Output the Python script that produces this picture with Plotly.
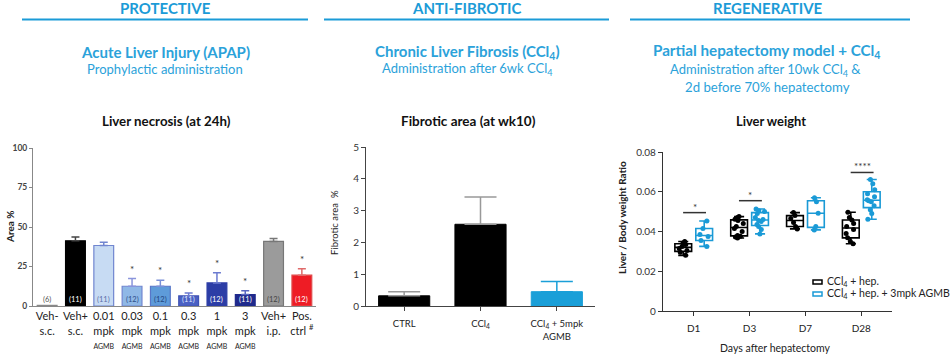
import plotly.graph_objects as go

W, H = 950, 354


def px(x):
    return x / W


def py(y):
    return 1 - y / H


FONT = "Lato"
BLUE = "#1b9bd7"

# ---------------- Panel 1: Liver necrosis ----------------
nec_labels = [
    "Veh-<br>s.c.",
    "Veh+<br>s.c.",
    "0.01<br>mpk<br><span style='font-size:7px'>AGMB</span>",
    "0.03<br>mpk<br><span style='font-size:7px'>AGMB</span>",
    "0.1<br>mpk<br><span style='font-size:7px'>AGMB</span>",
    "0.3<br>mpk<br><span style='font-size:7px'>AGMB</span>",
    "1<br>mpk<br><span style='font-size:7px'>AGMB</span>",
    "3<br>mpk<br><span style='font-size:7px'>AGMB</span>",
    "Veh+<br>i.p.",
    "Pos.<br>ctrl <sup>#</sup>",
]
nec_values = [0.4, 41.3, 38.3, 12.5, 12.5, 6.4, 14.6, 7.2, 40.9, 19.5]
nec_err = [0.0, 2.3, 2.0, 4.9, 3.8, 1.9, 6.4, 2.5, 1.9, 4.0]
nec_n = ["(6)", "(11)", "(11)", "(12)", "(12)", "(11)", "(12)", "(11)", "(12)", "(12)"]
nec_sig = ["", "", "", "*", "*", "*", "*", "*", "", "*"]
nec_fill = ["#ffffff", "#000000", "#c7dbf3", "#8fb8e6", "#5e9bd9", "#4a60c3",
            "#2c3da6", "#1f2a8c", "#9b9b9b", "#ee1c25"]
nec_line = ["#888888", "#000000", "#7186d0", "#7186d0", "#5876c8", "#3f52b4",
            "#2c3da6", "#1f2a8c", "#777777", "#e04a4a"]
nec_err_col = ["#888888", "#444444", "#7186d0", "#8a95dc", "#7a90d8", "#6c7bd0",
               "#6c7bd0", "#5a66c0", "#777777", "#e06a6a"]
nec_n_col = ["#555555", "#ffffff", "#5b6ea8", "#2d4f8a", "#23457e", "#dfe4ff",
             "#ffffff", "#ffffff", "#444444", "#ffffff"]

# ---------------- Panel 2: Fibrotic area ----------------
fib_labels = ["CTRL", "CCl<sub>4</sub>", "CCl<sub>4</sub> + 5mpk<br>AGMB"]
fib_values = [0.32, 2.57, 0.45]
fib_err = [0.13, 0.86, 0.32]
fib_fill = ["#000000", "#000000", "#1a9fd8"]
fib_err_col = ["#999999", "#999999", "#1a9fd8"]

# ---------------- Panel 3: Liver weight ----------------
days = ["D1", "D3", "D7", "D28"]
lw_hep = [
    [0.028, 0.0295, 0.0305, 0.0315, 0.0325, 0.0335, 0.0342, 0.035],
    [0.0367, 0.0372, 0.0376, 0.038, 0.040, 0.0415, 0.0425, 0.044, 0.0455, 0.0462, 0.047, 0.0475],
    [0.0413, 0.0425, 0.0445, 0.0465, 0.048, 0.0495],
    [0.0338, 0.035, 0.0368, 0.039, 0.041, 0.0425, 0.044, 0.0458, 0.047, 0.0497],
]
lw_agmb = [
    [0.0325, 0.0355, 0.0375, 0.0385, 0.0415, 0.0453],
    [0.0388, 0.041, 0.0425, 0.0435, 0.045, 0.0455, 0.046, 0.047, 0.049, 0.050, 0.0505, 0.0513],
    [0.0408, 0.0425, 0.0492, 0.055, 0.057],
    [0.0462, 0.049, 0.051, 0.053, 0.055, 0.0555, 0.056, 0.0575, 0.059, 0.061, 0.064, 0.0662],
]
lw_names = ["CCl<sub>4</sub> + hep.", "CCl<sub>4</sub> + hep. + 3mpk AGMB"]
lw_colors = ["#000000", "#1a9ad6"]
lw_ticks = [0, 0.02, 0.04, 0.06, 0.08]
lw_ticktext = ["0", "0.02", "0.04", "0.06", "0.08"]
sig_day_idx = [0, 1, 3]
sig_y = [0.0495, 0.0555, 0.0697]
sig_text = ["*", "*", "****"]

fig = go.Figure()

# panel 1 bars
for i, lab in enumerate(nec_labels):
    fig.add_trace(go.Bar(
        x=[lab], y=[nec_values[i]], xaxis="x", yaxis="y", width=0.7,
        marker=dict(color=nec_fill[i], line=dict(color=nec_line[i], width=1.2)),
        error_y=dict(type="data", array=[nec_err[i]], arrayminus=[0], symmetric=False,
                     color=nec_err_col[i], thickness=1.5, width=4, visible=nec_err[i] > 0),
        showlegend=False, hoverinfo="skip"))

# panel 2 bars
for i, lab in enumerate(fib_labels):
    fig.add_trace(go.Bar(
        x=[lab], y=[fib_values[i]], xaxis="x2", yaxis="y2", width=0.67,
        marker=dict(color=fib_fill[i], line=dict(color=fib_fill[i], width=1)),
        error_y=dict(type="data", array=[fib_err[i]], arrayminus=[0], symmetric=False,
                     color=fib_err_col[i], thickness=1.5, width=16),
        showlegend=False, hoverinfo="skip"))

# panel 3 boxes
for groups, name, col in zip([lw_hep, lw_agmb], lw_names, lw_colors):
    xs = [d for d, g in zip(days, groups) for _ in g]
    ys = [v for g in groups for v in g]
    fig.add_trace(go.Box(
        x=xs, y=ys, name=name, xaxis="x3", yaxis="y3",
        boxpoints="all", jitter=0.6, pointpos=0, whiskerwidth=0.6,
        fillcolor="rgba(255,255,255,1)", line=dict(color=col, width=1.6),
        marker=dict(color=col, size=5), hoverinfo="skip", showlegend=False))

ann = []
shapes = []


def paper_text(text, x, y, size, color, xanchor="center", angle=0):
    ann.append(dict(text=text, x=px(x), y=py(y), xref="paper", yref="paper",
                    xanchor=xanchor, yanchor="middle", textangle=angle, showarrow=False,
                    font=dict(family=FONT, size=size, color=color)))


# headers
headers = [("PROTECTIVE", 165, 22, 308), ("ANTI-FIBROTIC", 467, 324, 609),
           ("REGENERATIVE", 768, 630, 910)]
for text, cx, x0, x1 in headers:
    paper_text(f"<b>{text}</b>", cx, 8, 15, BLUE)
    shapes.append(dict(type="line", xref="paper", yref="paper", x0=px(x0), x1=px(x1),
                       y0=py(19.5), y1=py(19.5), line=dict(color=BLUE, width=2)))

subtitles = [
    ("<b>Acute Liver Injury (APAP)</b>", 165, 52, 15),
    ("Prophylactic administration", 165, 69, 13),
    ("<b>Chronic Liver Fibrosis (CCl<sub>4</sub>)</b>", 467, 52, 15),
    ("Administration after 6wk CCl<sub>4</sub>", 467, 69, 13),
    ("<b>Partial hepatectomy model + CCl<sub>4</sub></b>", 767, 51, 15.2),
    ("Administration after 10wk CCl<sub>4</sub> &", 765, 70, 13),
    ("2d before 70% hepatectomy", 767, 87, 13.2),
]
for text, cx, cy, fs in subtitles:
    paper_text(text, cx, cy, fs, "#2ba2da")

chart_titles = [("Liver necrosis (at 24h)", 166, 121, 13.3),
                ("Fibrotic area (at wk10)", 468, 121, 13.5),
                ("Liver weight", 771, 121, 12.9)]
for text, cx, cy, fs in chart_titles:
    paper_text(f"<b>{text}</b>", cx, cy, fs, "#111111")

# axis titles
paper_text("<b>Area %</b>", 10, 227, 10, "#222", angle=-90)
paper_text("Fibrotic area  %", 334, 223, 9.5, "#222", angle=-90)
paper_text("<b>Liver / Body weight Ratio</b>", 622, 218, 10, "#222", angle=-90)
paper_text("Days after hepatectomy", 775, 348, 10.5, "#222")

# panel 1 n-labels and stars
for i, lab in enumerate(nec_labels):
    ann.append(dict(text=nec_n[i], x=lab, y=0, xref="x", yref="y", yanchor="bottom",
                    yshift=0, showarrow=False,
                    font=dict(family=FONT, size=7.5, color=nec_n_col[i])))
    if nec_sig[i]:
        ann.append(dict(text=nec_sig[i], x=lab, y=nec_values[i] + nec_err[i], xref="x",
                        yref="y", yanchor="bottom", yshift=2, showarrow=False,
                        font=dict(family=FONT, size=10, color="#333")))

# panel 3 significance
for idx, yv, t in zip(sig_day_idx, sig_y, sig_text):
    shapes.append(dict(type="line", xref="x3", yref="y3", x0=idx - 0.19, x1=idx + 0.22,
                       y0=yv, y1=yv, line=dict(color="#333", width=1.5)))
    ann.append(dict(text=t, x=idx + 0.015, y=yv, xref="x3", yref="y3", yanchor="bottom",
                    yshift=-2, showarrow=False, font=dict(family=FONT, size=10, color="#333")))

# panel 3 legend (drawn as small outlined rectangles + labels)
leg_y = [282, 294]
for name, col, ly in zip(lw_names, lw_colors, leg_y):
    shapes.append(dict(type="rect", xref="paper", yref="paper", x0=px(813), x1=px(822),
                       y0=py(ly - 2), y1=py(ly + 2), line=dict(color=col, width=1.5),
                       fillcolor="white"))
    paper_text(name, 825, ly, 10.5, "#222", xanchor="left")

axis_common = dict(automargin=False, showgrid=False, zeroline=False, showline=True)

fig.update_layout(
    width=W, height=H, margin=dict(l=0, r=0, t=0, b=0, autoexpand=False),
    paper_bgcolor="white", plot_bgcolor="white",
    barmode="overlay", boxmode="group", boxgap=0.25, boxgroupgap=0.2,
    font=dict(family=FONT, color="#222"),
    annotations=ann, shapes=shapes, showlegend=False,
    xaxis=dict(domain=[px(33), px(316)], range=[-0.5, 9.5], type="category",
               linecolor="#888", linewidth=1, ticks="",
               tickfont=dict(family=FONT, size=11, color="#222"), **axis_common),
    yaxis=dict(domain=[py(306), py(148)], range=[0, 100], linecolor="#888",
               linewidth=1, ticks="outside", ticklen=3, tickcolor="#888",
               tickvals=[0, 25, 50, 75, 100],
               tickfont=dict(family=FONT, size=8.5, color="#444", weight="bold"),
               **axis_common),
    xaxis2=dict(domain=[px(366), px(595)], range=[-0.5, 2.5], type="category",
                anchor="y2", linecolor="#444", linewidth=1, ticks="outside",
                ticklen=4, tickcolor="#444", ticklabelstandoff=5,
                tickfont=dict(family=FONT, size=9.5, color="#222"), **axis_common),
    yaxis2=dict(domain=[py(306), py(147)], range=[0, 5], anchor="x2",
                linecolor="#444", linewidth=1, ticks="outside", ticklen=4, tickcolor="#444",
                dtick=1, tickfont=dict(family=FONT, size=10, color="#333"), **axis_common),
    xaxis3=dict(domain=[px(663), px(892)], range=[-0.55, 3.55], type="category",
                categoryorder="array", categoryarray=days, anchor="y3",
                linecolor="#333", linewidth=1.2, ticks="outside", ticklen=4,
                tickcolor="#333", ticklabelstandoff=4,
                tickfont=dict(family=FONT, size=10, color="#222"), **axis_common),
    yaxis3=dict(domain=[py(311), py(152)], range=[0, 0.08], anchor="x3",
                linecolor="#333", linewidth=1.2, ticks="outside", ticklen=4,
                tickcolor="#333", tickvals=lw_ticks, ticktext=lw_ticktext,
                tickfont=dict(family=FONT, size=10, color="#333"), **axis_common),
)

fig.write_html("out.html")
